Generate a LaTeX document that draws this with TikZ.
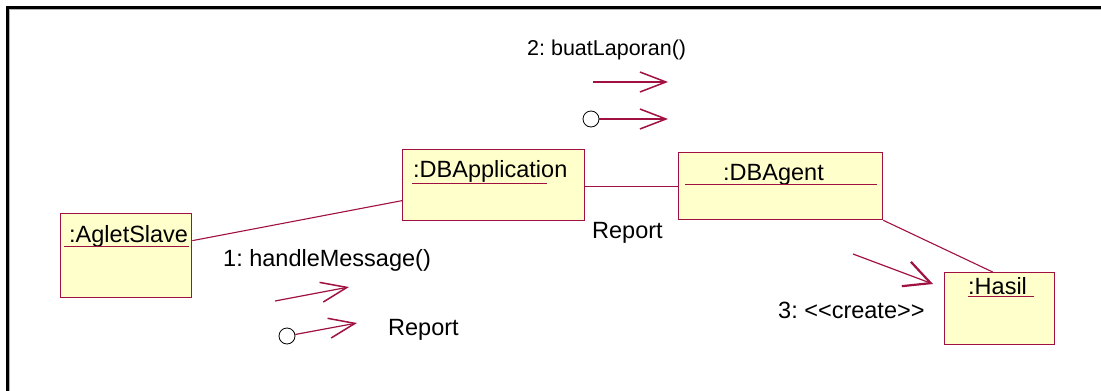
\documentclass[tikz,border=0pt]{standalone}
\usepackage{fontspec}
\setmainfont{Liberation Sans}
\usetikzlibrary{arrows.meta,calc}
\definecolor{umlline}{RGB}{160,16,64}
\definecolor{umlfill}{RGB}{255,255,204}
\begin{document}
\frenchspacing
\begin{tikzpicture}[x=1pt,y=-1pt,
  obj/.style={draw=umlline,fill=umlfill,line width=1.3pt,rectangle,inner sep=0pt,anchor=north west},
  txt/.style={anchor=base west,inner sep=0pt,font=\fontsize{23.5}{28}\selectfont},
  uline/.style={draw=umlline,line width=1pt},
  link/.style={draw=umlline,line width=1.1pt},
  msg/.style={draw=umlline,line width=1.2pt,-{Straight Barb[length=26pt,width=20pt,line width=1.5pt]}},
  ret/.style={draw=black,line width=0.8pt,circle,fill=white,minimum size=16pt,inner sep=0pt}
]
\useasboundingbox (0,0) rectangle (1101,391);
% frame
\draw[gray!60,line width=1pt] (9.5,391) -- (9.5,9.5) -- (1101,9.5);
\draw[black,line width=3pt] (7,391) -- (7,7) -- (1101,7);

% objects
\node[obj,minimum width=131pt,minimum height=84pt] (as) at (60,213) {};
\node[obj,minimum width=182pt,minimum height=71pt] (dba) at (402,149) {};
\node[obj,minimum width=204pt,minimum height=67pt] (dbg) at (678,152) {};
\node[obj,minimum width=110pt,minimum height=72pt] (hs) at (944,272) {};

\node[txt] (asT) at (69,242) {:AgletSlave};
\draw[uline] (64,246) -- (189,246);
\node[txt] (dbaT) at (413,177) {:DBApplication};
\draw[uline] (412,183) -- (547,183);
\node[txt] (dbgT) at (723,180) {:DBAgent};
\draw[uline] (685,184) -- (877,184);
\node[txt] (hsT) at (968,294) {:Hasil};
\draw[uline] (968,296) -- (1034,296);

% links
\draw[link] ([yshift=15pt]as.east) -- ([yshift=-15.5pt]dba.west);
\draw[link] ([yshift=-1.5pt]dba.east) -- ([yshift=-0.5pt]dbg.west);
\draw[link] (dbg.south east) -- ([xshift=-7pt]hs.north);
\node[txt] (rep1) at (592,238) {Report};

% message 2
\node[txt,font=\fontsize{21.5}{26}\selectfont] (m2) at (527,55) {2: buatLaporan()};
\coordinate (m2a) at (593,82);
\coordinate (m2b) at (668,82);
\draw[msg] (m2a) -- (m2b);
\node[ret] (r2) at (591,119) {};
\coordinate (r2b) at (668,119);
\draw[msg] (r2) -- (r2b);

% message 1
\node[txt] (m1) at (223,266) {1: handleMessage()};
\coordinate (m1a) at (275,301);
\coordinate (m1b) at (349,287);
\draw[msg] (m1a) -- (m1b);
\node[ret] (r1) at (287,336) {};
\coordinate (r1b) at (357,323);
\draw[msg] (r1) -- (r1b);
\node[txt] (rep2) at (388,335) {Report};

% message 3
\coordinate (m3a) at (853,254);
\coordinate (m3b) at (933,284);
\draw[msg,-{Straight Barb[length=26pt,width=26pt,line width=2.2pt]}] (m3a) -- (m3b);
\node[txt] (m3) at (778,318) {3: <\kern0pt<create>\kern0pt>};
\end{tikzpicture}
\end{document}
